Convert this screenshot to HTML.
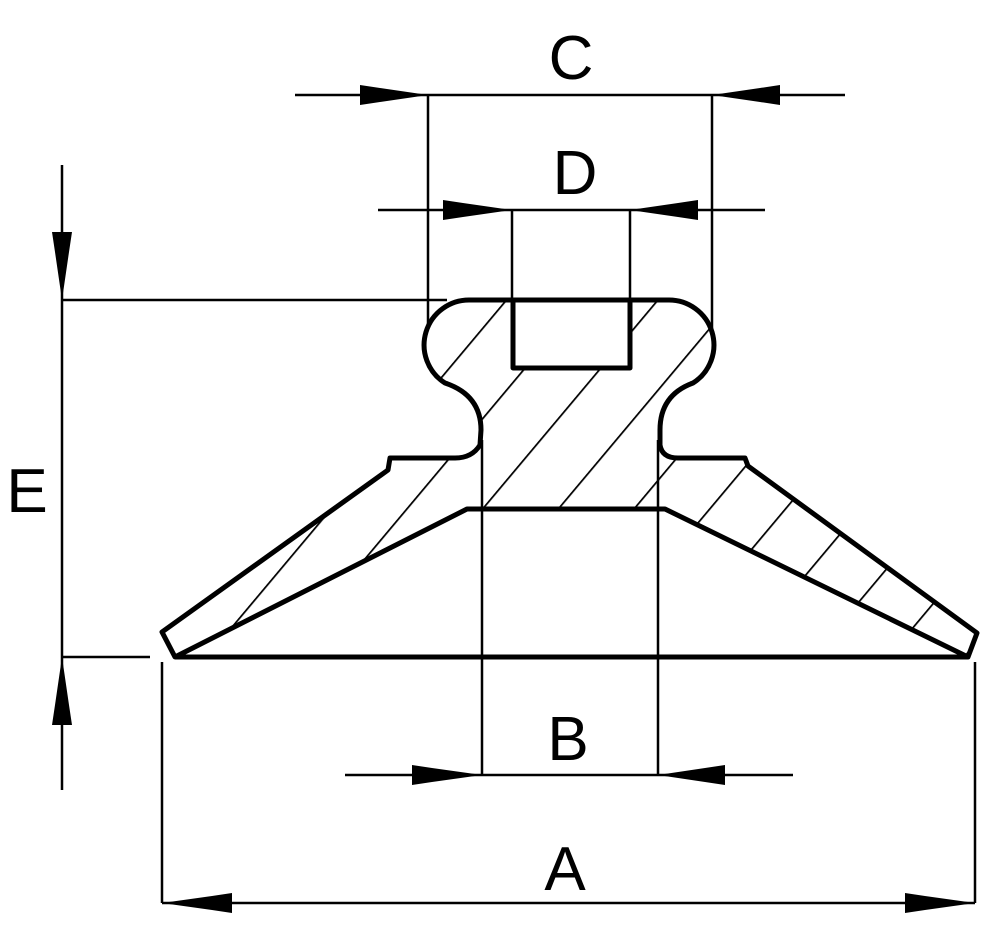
<!DOCTYPE html>
<html><head><style>
html,body{margin:0;padding:0;background:#fff;}
svg{display:block;}
text{font-family:"Liberation Sans",sans-serif;font-size:62px;fill:#000;}
</style></head><body>
<svg width="1000" height="949" viewBox="0 0 1000 949" xmlns="http://www.w3.org/2000/svg">
<defs>
<pattern id="h" patternUnits="userSpaceOnUse" width="58" height="58" patternTransform="rotate(40)">
<line x1="0" y1="0" x2="0" y2="58" stroke="#000" stroke-width="3.5"/>
</pattern>
<clipPath id="sec">
<path d="M470,300 L668,300 A45,45 0 0 1 693,383 Q660,395 660,430 L660,445 Q662,458 678,458 L745,458 L748,466 L977,633 L968,657 L665,509 L467,509 L175,657 L162,632 L388,470 L390,458 L455,458 Q472,458 480,445 L481,430 Q481,395 445,383 A45,45 0 0 1 470,300 Z M513,300 L513,368 L630,368 L630,300 Z" clip-rule="evenodd"/>
</clipPath>
</defs>
<rect x="100" y="290" width="900" height="380" fill="url(#h)" clip-path="url(#sec)"/>
<g fill="none" stroke="#000" stroke-width="5" stroke-linejoin="round">
<path d="M470,300 L668,300 A45,45 0 0 1 693,383 Q660,395 660,430 L660,445 Q662,458 678,458 L745,458 L748,466 L977,633 L968,657 L175,657 L162,632 L388,470 L390,458 L455,458 Q472,458 480,445 L481,430 Q481,395 445,383 A45,45 0 0 1 470,300 Z"/>
<path d="M175,657 L467,509 L665,509 L968,657"/>
<path d="M513,300 L513,368 L630,368 L630,300"/>
</g>
<g stroke="#000" stroke-width="2.5" fill="none">
<line x1="295" y1="95" x2="845" y2="95"/>
<line x1="428" y1="95" x2="428" y2="325"/>
<line x1="712" y1="95" x2="712" y2="330"/>
<line x1="378" y1="210" x2="765" y2="210"/>
<line x1="512" y1="210" x2="512" y2="300"/>
<line x1="630" y1="210" x2="630" y2="300"/>
<line x1="62" y1="165" x2="62" y2="790"/>
<line x1="62" y1="300" x2="447" y2="300"/>
<line x1="62" y1="657" x2="150" y2="657"/>
<line x1="345" y1="775" x2="793" y2="775"/>
<line x1="482" y1="440" x2="482" y2="775"/>
<line x1="658" y1="440" x2="658" y2="775"/>
<line x1="162" y1="903" x2="975" y2="903"/>
<line x1="162" y1="662" x2="162" y2="903"/>
<line x1="975" y1="662" x2="975" y2="903"/>
</g>
<g fill="#000">
<polygon points="360,85 380,88 428,95 380,102 360,105"/>
<polygon points="780,85 760,88 712,95 760,102 780,105"/>
<polygon points="443,200 463,203 512,210 463,217 443,220"/>
<polygon points="698,200 678,203 630,210 678,217 698,220"/>
<polygon points="52,232 55,252 62,300 69,252 72,232"/>
<polygon points="52,725 55,705 62,657 69,705 72,725"/>
<polygon points="412,765 432,768 482,775 432,782 412,785"/>
<polygon points="725,765 705,768 658,775 705,782 725,785"/>
<polygon points="232,893 212,896 162,903 212,910 232,913"/>
<polygon points="905,893 925,896 975,903 925,910 905,913"/>
</g>
<text x="571" y="79" text-anchor="middle">C</text>
<text x="575" y="194" text-anchor="middle">D</text>
<text x="27" y="512" text-anchor="middle">E</text>
<text x="568" y="760" text-anchor="middle">B</text>
<text x="565" y="890" text-anchor="middle">A</text>
</svg>
</body></html>
